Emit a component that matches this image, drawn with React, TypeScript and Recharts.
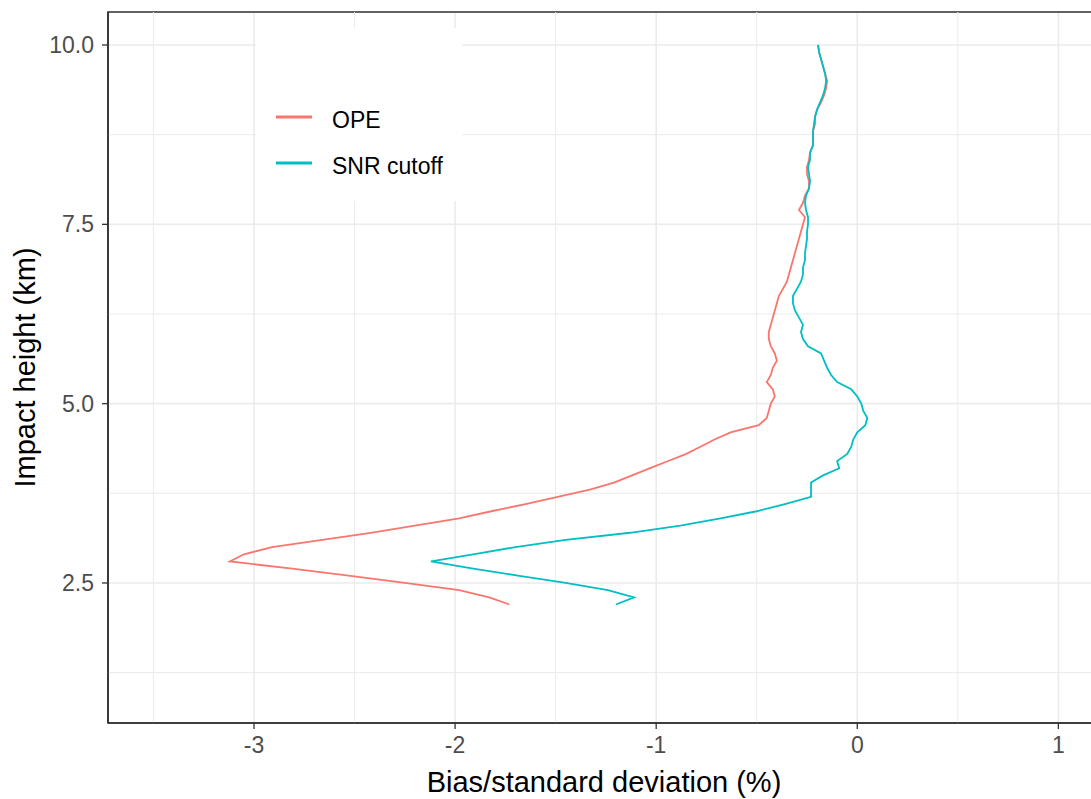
import React from "react";
import {
  LineChart,
  Line,
  XAxis,
  YAxis,
  CartesianGrid,
  ReferenceLine,
  ReferenceArea,
  Legend,
} from "recharts";

const HEIGHTS = [
  2.2, 2.3, 2.4, 2.5, 2.6, 2.7, 2.8, 2.9, 3.0, 3.1, 3.2, 3.3, 3.4, 3.5, 3.6, 3.7,
  3.8, 3.9, 4.0, 4.1, 4.2, 4.3, 4.4, 4.5, 4.6, 4.7, 4.8, 4.9, 5.0, 5.1, 5.2, 5.3,
  5.4, 5.5, 5.6, 5.7, 5.8, 5.9, 6.0, 6.1, 6.2, 6.3, 6.4, 6.5, 6.6, 6.7, 6.8, 6.9,
  7.0, 7.1, 7.2, 7.3, 7.4, 7.5, 7.6, 7.7, 7.8, 7.9, 8.0, 8.1, 8.2, 8.3, 8.4, 8.5,
  8.6, 8.7, 8.8, 8.9, 9.0, 9.1, 9.2, 9.3, 9.4, 9.5, 9.6, 9.7, 9.8, 9.9, 10.0,
];

const OPE = [
  -1.73, -1.83, -1.98, -2.25, -2.52, -2.81, -3.12, -3.05, -2.91, -2.66, -2.42,
  -2.2, -1.98, -1.82, -1.65, -1.49, -1.33, -1.21, -1.12, -1.03, -0.94, -0.85,
  -0.78, -0.71, -0.63, -0.49, -0.45, -0.44, -0.43, -0.41, -0.42, -0.45, -0.43,
  -0.42, -0.4, -0.41, -0.43, -0.44, -0.44, -0.43, -0.42, -0.41, -0.4, -0.39,
  -0.37, -0.35, -0.34, -0.33, -0.32, -0.31, -0.3, -0.29, -0.28, -0.27, -0.26,
  -0.29, -0.27, -0.26, -0.24, -0.24, -0.25, -0.25, -0.24, -0.235, -0.22, -0.22,
  -0.22, -0.21, -0.21, -0.2, -0.18, -0.165, -0.155, -0.15, -0.16, -0.17, -0.18,
  -0.19, -0.195,
];

const SNR_CUTOFF = [
  -1.2, -1.11, -1.24, -1.45, -1.68, -1.91, -2.12, -1.91, -1.7, -1.45, -1.13,
  -0.88, -0.68, -0.5, -0.36, -0.23, -0.23, -0.23, -0.17, -0.09, -0.1, -0.05,
  -0.03, -0.02, 0.0, 0.04, 0.05, 0.03, 0.02, 0.0, -0.03, -0.1, -0.13, -0.15,
  -0.165, -0.18, -0.245, -0.27, -0.28, -0.27, -0.29, -0.31, -0.32, -0.32, -0.3,
  -0.28, -0.27, -0.27, -0.26, -0.26, -0.255, -0.25, -0.25, -0.245, -0.245,
  -0.255, -0.26, -0.255, -0.24, -0.235, -0.24, -0.245, -0.235, -0.235, -0.22,
  -0.22, -0.22, -0.215, -0.21, -0.2, -0.185, -0.17, -0.16, -0.155, -0.16, -0.17,
  -0.18, -0.19, -0.195,
];

const X_TICKS = [-3, -2, -1, 0, 1];
const X_MINOR = [-3.5, -2.5, -1.5, -0.5, 0.5];
const Y_TICKS = [2.5, 5, 7.5, 10];
const Y_MINOR = [1.25, 3.75, 6.25, 8.75];

const X_DOMAIN: [number, number] = [-3.726, 1.207];
const Y_DOMAIN: [number, number] = [0.548, 10.46];

const FONT = '"Liberation Sans", Arial, sans-serif';
const GRID = "#EBEBEB";
const DARK = "#333333";

const data = HEIGHTS.map((h, i) => ({
  h,
  ope: OPE[i],
  snr: SNR_CUTOFF[i],
}));

function LegendBox({ payload }: any) {
  const items = (payload || []).filter((p: any) => p.type !== "none");
  return (
    <div style={{ position: "relative", width: 206, height: 173, background: "#fff" }}>
      {items.map((item: any, i: number) => (
        <div key={item.value} style={{ position: "absolute", left: 0, top: 76 + i * 46, height: 26 }}>
          <svg width={60} height={26} style={{ position: "absolute", left: 0, top: 0 }}>
            <line x1={20} x2={56} y1={13} y2={13} stroke={item.color} strokeWidth={3} />
          </svg>
          <span
            style={{
              position: "absolute",
              left: 76,
              top: 3,
              whiteSpace: "nowrap",
              fontFamily: FONT,
              fontSize: 23,
              lineHeight: "26px",
              color: "#000",
            }}
          >
            {item.value}
          </span>
        </div>
      ))}
    </div>
  );
}

export default function App() {
  return (
    <div
      style={{
        position: "fixed",
        left: 0,
        top: 0,
        width: 1091,
        height: 799,
        overflow: "hidden",
        background: "#fff",
      }}
    >
      <LineChart
        width={1100}
        height={799}
        data={data}
        layout="vertical"
        margin={{ top: 12, right: 0, bottom: 0, left: 0 }}
      >
        <CartesianGrid stroke={GRID} strokeWidth={1.6} />
        {X_MINOR.map((x) => (
          <ReferenceLine key={"vx" + x} x={x} stroke={GRID} strokeWidth={1} />
        ))}
        {Y_MINOR.map((y) => (
          <ReferenceLine key={"hy" + y} y={y} stroke={GRID} strokeWidth={1} />
        ))}
        <XAxis
          type="number"
          domain={X_DOMAIN}
          ticks={X_TICKS}
          allowDataOverflow
          height={76}
          tickSize={6}
          tickMargin={8}
          stroke={DARK}
          axisLine={{ stroke: DARK, strokeWidth: 1.6 }}
          tickLine={{ stroke: DARK, strokeWidth: 1.3 }}
          tick={{ fill: "#4D4D4D", fontSize: 23, fontFamily: FONT }}
          label={{
            content: (props: any) => {
              const vb = props.viewBox || {};
              return (
                <text
                  x={vb.x + vb.width / 2}
                  y={792}
                  textAnchor="middle"
                  fontFamily={FONT}
                  fontSize={29}
                  fill="#000"
                >
                  Bias/standard deviation (%)
                </text>
              );
            },
          }}
        />
        <YAxis
          type="number"
          dataKey="h"
          domain={Y_DOMAIN}
          ticks={Y_TICKS}
          reversed
          allowDataOverflow
          width={108}
          tickSize={6}
          tickMargin={8}
          stroke={DARK}
          axisLine={{ stroke: DARK, strokeWidth: 1.6 }}
          tickLine={{ stroke: DARK, strokeWidth: 1.3 }}
          tick={{ fill: "#4D4D4D", fontSize: 23, fontFamily: FONT }}
          tickFormatter={(v: number) => v.toFixed(1)}
          label={{
            content: (props: any) => {
              const vb = props.viewBox || {};
              const cy = vb.y + vb.height / 2;
              return (
                <text
                  transform={`translate(35, ${cy}) rotate(-90)`}
                  textAnchor="middle"
                  fontFamily={FONT}
                  fontSize={29}
                  fill="#000"
                >
                  Impact height (km)
                </text>
              );
            },
          }}
        />
        <ReferenceArea
          x1={X_DOMAIN[0]}
          x2={X_DOMAIN[1]}
          y1={Y_DOMAIN[0]}
          y2={Y_DOMAIN[1]}
          fill="none"
          stroke={DARK}
          strokeWidth={1.6}
        />
        <Line
          name="OPE"
          dataKey="ope"
          type="linear"
          stroke="#F8766D"
          strokeWidth={1.8}
          dot={false}
          isAnimationActive={false}
        />
        <Line
          name="SNR cutoff"
          dataKey="snr"
          type="linear"
          stroke="#00BFC4"
          strokeWidth={1.8}
          dot={false}
          isAnimationActive={false}
        />
        <Legend
          layout="vertical"
          align="center"
          verticalAlign="middle"
          wrapperStyle={{ left: 256, top: 28, width: 206, height: 173 }}
          content={<LegendBox />}
        />
      </LineChart>
    </div>
  );
}
